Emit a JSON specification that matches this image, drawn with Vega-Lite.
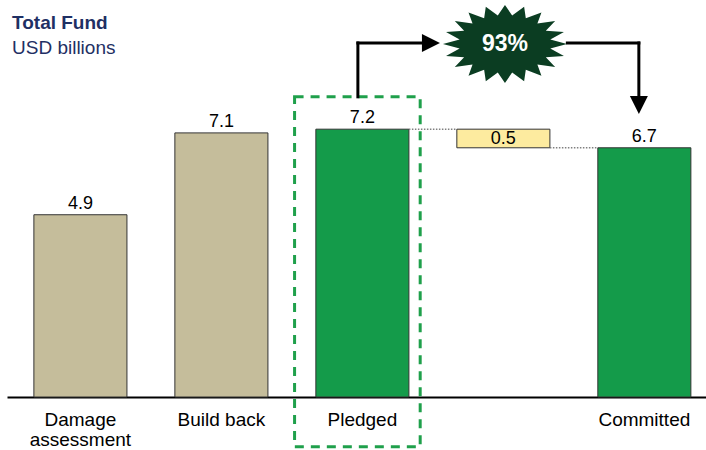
{
  "$schema": "https://vega.github.io/schema/vega-lite/v6.json",
  "width": 699,
  "height": 337,
  "autosize": {"type": "none"},
  "padding": {"left": 7, "top": 60, "right": 0, "bottom": 53},
  "config": {"font": "Liberation Sans", "view": {"stroke": null}},
  "title": {
    "text": "Total Fund",
    "subtitle": "USD billions",
    "anchor": "start",
    "frame": "group",
    "font": "Liberation Sans",
    "fontSize": 19,
    "fontWeight": "bold",
    "color": "#1F3064",
    "subtitleFont": "Liberation Sans",
    "subtitleFontSize": 19,
    "subtitleColor": "#1F3064",
    "subtitlePadding": 6,
    "dx": 5,
    "offset": -53
  },
  "data": {
    "values": [
      {"cat": "Damage assessment", "lo": 0, "hi": 4.9, "label": "4.9", "kind": "estimate"},
      {"cat": "Build back", "lo": 0, "hi": 7.1, "label": "7.1", "kind": "estimate"},
      {"cat": "Pledged", "lo": 0, "hi": 7.2, "label": "7.2", "kind": "fund"},
      {"cat": "gap", "lo": 6.7, "hi": 7.2, "label": "0.5", "kind": "gap"},
      {"cat": "Committed", "lo": 0, "hi": 6.7, "label": "6.7", "kind": "fund"}
    ]
  },
  "encoding": {
    "x": {
      "field": "cat",
      "type": "nominal",
      "sort": null,
      "scale": {
        "type": "band",
        "domain": ["Damage assessment", "Build back", "Pledged", "gap", "Committed"],
        "paddingInner": 0.34,
        "paddingOuter": 0.149,
        "align": 0.64
      },
      "axis": {
        "title": null,
        "domainColor": "#000000",
        "domainWidth": 2,
        "ticks": false,
        "labelAngle": 0,
        "labelFontSize": 19,
        "labelColor": "#000000",
        "labelPadding": 13,
        "labelLineHeight": 20,
        "labelOverlap": false,
        "labelLimit": 300,
        "labelBaseline": "top",
        "labelExpr": "datum.value === 'gap' ? '' : datum.value === 'Damage assessment' ? ['Damage', 'assessment'] : datum.label",
        "encode": {
          "labels": {
            "update": {
              "align": {"signal": "datum.value === 'Damage assessment' ? 'left' : 'center'"},
              "dx": {"signal": "datum.value === 'Damage assessment' ? -46 : datum.value === 'Pledged' ? -7 : 0"}
            }
          }
        }
      }
    }
  },
  "layer": [
    {
      "mark": {"type": "bar", "stroke": "#333333", "strokeWidth": 1},
      "encoding": {
        "y": {"field": "lo", "type": "quantitative", "scale": {"domain": [0, 9.06], "nice": false, "zero": false}, "axis": null},
        "y2": {"field": "hi"},
        "color": {
          "field": "kind",
          "type": "nominal",
          "scale": {"domain": ["estimate", "fund", "gap"], "range": ["#C5BD9B", "#149B4A", "#FDEB9F"]},
          "legend": null
        }
      }
    },
    {
      "transform": [{"filter": "datum.kind !== 'gap'"}],
      "mark": {"type": "text", "baseline": "alphabetic", "dy": -6, "fontSize": 18, "color": "#000000"},
      "encoding": {
        "y": {"field": "hi", "type": "quantitative"},
        "text": {"field": "label"}
      }
    },
    {
      "transform": [{"filter": "datum.kind === 'gap'"}],
      "mark": {"type": "text", "baseline": "middle", "dy": 10, "fontSize": 18, "color": "#000000"},
      "encoding": {
        "y": {"field": "hi", "type": "quantitative"},
        "text": {"field": "label"}
      }
    },
    {
      "data": {"values": [{"from": "Pledged", "to": "gap", "level": 7.2}, {"from": "gap", "to": "Committed", "level": 6.7}]},
      "mark": {"type": "rule", "color": "#808080", "strokeWidth": 1.5, "strokeDash": [1.5, 1.5]},
      "encoding": {
        "x": {"field": "from", "type": "nominal", "bandPosition": 1},
        "x2": {"field": "to", "bandPosition": 0},
        "y": {"field": "level", "type": "quantitative"}
      }
    },
    {
      "data": {"values": [{}]},
      "mark": {"type": "bar", "width": {"band": 1.35}, "xOffset": -5, "fill": null, "fillOpacity": 0, "stroke": "#1FA04B", "strokeWidth": 3, "strokeDash": [9, 7]},
      "encoding": {
        "x": {"datum": "Pledged"},
        "y": {"datum": 8.07, "type": "quantitative"},
        "y2": {"datum": -1.34}
      }
    },
    {
      "data": {"values": [{}]},
      "mark": {"type": "rule", "color": "#000000", "strokeWidth": 3, "strokeCap": "square", "xOffset": -4.5},
      "encoding": {
        "x": {"datum": "Pledged"},
        "y": {"datum": 8.07, "type": "quantitative"},
        "y2": {"datum": 9.517}
      }
    },
    {
      "data": {"values": [{}]},
      "mark": {"type": "rule", "color": "#000000", "strokeWidth": 3, "strokeCap": "square", "xOffset": -4.5, "x2Offset": -76},
      "encoding": {
        "x": {"datum": "Pledged"},
        "x2": {"datum": "gap"},
        "y": {"datum": 9.517, "type": "quantitative"}
      }
    },
    {
      "data": {"values": [{}]},
      "mark": {"type": "rule", "color": "#000000", "strokeWidth": 3, "strokeCap": "square", "xOffset": 64, "x2Offset": -5.5},
      "encoding": {
        "x": {"datum": "gap"},
        "x2": {"datum": "Committed"},
        "y": {"datum": 9.517, "type": "quantitative"}
      }
    },
    {
      "data": {"values": [{}]},
      "mark": {"type": "rule", "color": "#000000", "strokeWidth": 3, "strokeCap": "square", "xOffset": -5.5},
      "encoding": {
        "x": {"datum": "Committed"},
        "y": {"datum": 9.517, "type": "quantitative"},
        "y2": {"datum": 7.9}
      }
    },
    {
      "data": {"values": [{}]},
      "mark": {"type": "point", "filled": true, "opacity": 1, "color": "#000000", "strokeWidth": 0, "shape": "M1,0L-1,-1L-1,1Z", "size": 324, "xOffset": -72.4},
      "encoding": {
        "x": {"datum": "gap"},
        "y": {"datum": 9.517, "type": "quantitative"}
      }
    },
    {
      "data": {"values": [{}]},
      "mark": {"type": "point", "filled": true, "opacity": 1, "color": "#000000", "strokeWidth": 0, "shape": "M0,1L-1,-1L1,-1Z", "size": 324, "xOffset": -5.5},
      "encoding": {
        "x": {"datum": "Committed"},
        "y": {"datum": 7.85, "type": "quantitative"}
      }
    },
    {
      "data": {"values": [{}]},
      "mark": {
        "type": "point",
        "filled": true,
        "opacity": 1,
        "color": "#0B3D22",
        "strokeWidth": 0,
        "size": 15376,
        "xOffset": 1.6,
        "shape": "M1,0L0.731,0.073L0.951,0.195L0.659,0.212L0.809,0.37L0.523,0.33L0.588,0.51L0.336,0.415L0.309,0.599L0.116,0.46L0,0.63L-0.116,0.46L-0.309,0.599L-0.336,0.415L-0.588,0.51L-0.523,0.33L-0.809,0.37L-0.659,0.212L-0.951,0.195L-0.731,0.073L-1,0L-0.731,-0.073L-0.951,-0.195L-0.659,-0.212L-0.809,-0.37L-0.523,-0.33L-0.588,-0.51L-0.336,-0.415L-0.309,-0.599L-0.116,-0.46L0,-0.63L0.116,-0.46L0.309,-0.599L0.336,-0.415L0.588,-0.51L0.523,-0.33L0.809,-0.37L0.659,-0.212L0.951,-0.195L0.731,-0.073Z"
      },
      "encoding": {
        "x": {"datum": "gap"},
        "y": {"datum": 9.49, "type": "quantitative"}
      }
    },
    {
      "data": {"values": [{"t": "93%"}]},
      "mark": {"type": "text", "color": "#FFFFFF", "fontSize": 23, "fontWeight": "bold", "baseline": "middle", "xOffset": 1.6},
      "encoding": {
        "x": {"datum": "gap"},
        "y": {"datum": 9.49, "type": "quantitative"},
        "text": {"field": "t"}
      }
    }
  ]
}
